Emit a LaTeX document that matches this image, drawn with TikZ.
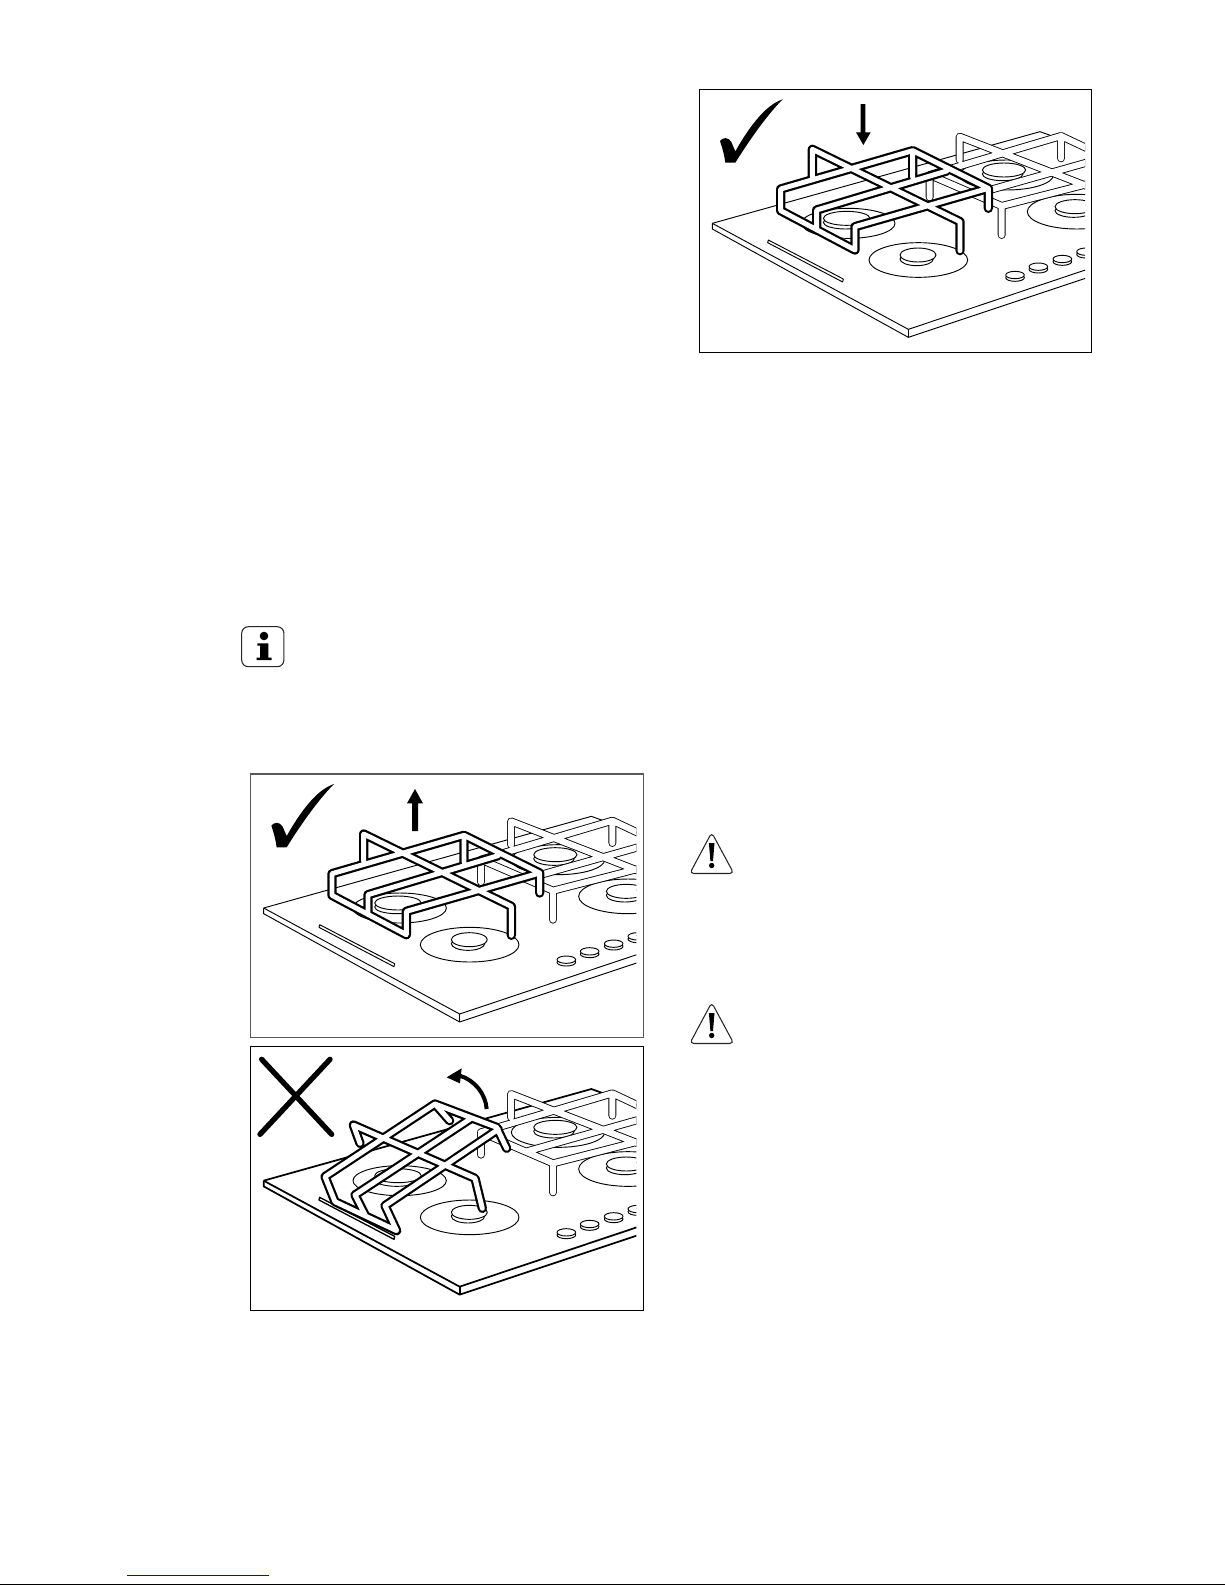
\documentclass[tikz,border=0pt]{standalone}
\usepackage{xcolor}
\usetikzlibrary{positioning}
\tikzstyle{panel} = [rectangle,minimum width=294.4pt,minimum height=197.7pt,draw=black,line width=0.9pt,inner sep=0pt]
\tikzstyle{infobox} = [rectangle,rounded corners=5pt,minimum width=31.7pt,minimum height=30pt,draw=black!85,line width=0.8pt,inner sep=0pt]
\tikzstyle{hob} = [x=0.25pt,y=-0.25pt,line join=round]
\tikzstyle{fine} = [line width=0.7pt]
\tikzstyle{reartube} = [line width=5.9pt,line cap=round,line join=round,black]
\tikzstyle{reartubein} = [line width=4.6pt,line cap=round,line join=round,white]
\tikzstyle{fronttube} = [line width=7pt,line cap=round,line join=round,black]
\tikzstyle{fronttubein} = [line width=3.7pt,line cap=round,line join=round,white]
\newcommand{\burnerset}[7]{
  \draw [fine,fill=white] (#1,#2) ellipse (#3 and #4);
  \draw [fine,fill=white] (#5-4,#6+12) ellipse (#7-4 and 20);
  \draw [fine,fill=white] (#5,#6) ellipse (#7 and 21);
}
\newcommand{\knobset}[2]{
  \draw [fine,fill=white] (#1,#2+8) ellipse (28 and 11);
  \draw [fine,fill=white] (#1,#2) ellipse (28 and 11);
}
\newcommand{\hobbase}[2]{
  \draw [line width=#1] (67,430) -- (1050,155) -- (1195,207);
  \draw [line width=#1] (67,430) -- (655,748) -- (1195,567);
  \draw [line width=#1] (67,430) -- (67,447) -- (655,772) -- (1195,592);
  \draw [line width=#1] (655,748) -- (655,772);
  \draw [line width=#2,fill=white] (235,480) -- (460,597) -- (458,606) -- (233,488) -- cycle;
  \burnerset{475}{430}{140}{45}{470}{415}{70}
  \burnerset{685}{540}{148}{52}{684}{525}{54}
  \burnerset{950}{285}{140}{45}{942}{270}{65}
  \burnerset{1160}{395}{148}{52}{1155}{380}{60}
  \knobset{975}{585}
  \knobset{1045}{560}
  \knobset{1117}{537}
  \knobset{1188}{515}
}
\newcommand{\rearpath}{(719,352) -- (719,285) -- (1113,168) -- (1113,235) (719,285) -- (935,378) -- (935,465)
  (935,378) -- (1200,310) (809,240) -- (809,170) -- (1200,322) (857,342) -- (1200,245) (1113,168) -- (1200,209)}
\newcommand{\frontpath}{(668,292) -- (668,212) -- (272,327) -- (272,392) -- (495,510) -- (495,440) -- (895,325) -- (895,385)
  (668,212) -- (895,325) (367,290) -- (367,208) -- (810,425) -- (810,512) (380,449) -- (380,390) -- (770,273)}
\newcommand{\liftpath}{(796,333) -- (766,270) -- (581,200) -- (251,418) -- (281,493) -- (466,580) -- (431,505) -- (771,276)
  (356,318) -- (336,263) -- (701,423) -- (723,513) (691,242) -- (341,473) -- (373,536) (581,200) -- (625,250)}
\newcommand{\okmark}{
  \fill (90,183) .. controls (98,172) and (115,170) .. (124,186) -- (136,214) .. controls (175,145) and (225,75) .. (278,58)
    .. controls (228,108) and (172,190) .. (136,248) -- (106,248) .. controls (103,225) and (97,203) .. (90,183) -- cycle;
}
\newcommand{\warnmark}{
  \draw [line width=0.8pt,rounded corners=3pt,draw=black!85] (711.7,832.5) -- (733.8,873.5) -- (689.8,873.5) -- cycle;
  \fill (708.9,843) -- (714.5,843) -- (713,861) -- (710.4,861) -- cycle;
  \fill (711.7,865.5) circle (2.7);
}
\begin{document}
\begin{tikzpicture}[x=0.75pt,y=-0.75pt]
  \useasboundingbox (0,0) rectangle (1225,1585);
  \node (panela) [panel] at (895.5,221) {};
  \node (panelb) [panel,draw=black!65] at (447,905.7) {};
  \node (panelc) [panel] at (447,1178.4) {};
  \node (infobox) [infobox] at (262.8,646.7) {};

  \begin{scope}[shift={(690,80)},hob]
    \begin{scope}
      \clip (0,0) rectangle (1185,840);
      \hobbase{0.7pt}{0.7pt}
      \draw [reartube] \rearpath;
      \draw [reartubein] \rearpath;
      \draw [fronttube] \frontpath;
      \draw [fronttubein] \frontpath;
    \end{scope}
    \okmark
    \fill (512,72) -- (526,72) -- (526,157) -- (542,157) -- (520,195) -- (498,157) -- (512,157) -- cycle;
  \end{scope}

  \begin{scope}[shift={(241.33,764.67)},hob]
    \begin{scope}
      \clip (0,0) rectangle (1185,840);
      \hobbase{0.7pt}{0.7pt}
      \draw [reartube] \rearpath;
      \draw [reartubein] \rearpath;
      \draw [fronttube] \frontpath;
      \draw [fronttubein] \frontpath;
    \end{scope}
    \okmark
    \fill (512,199) -- (530,199) -- (530,116) -- (545,116) -- (521,73) -- (497,116) -- (512,116) -- cycle;
  \end{scope}

  \begin{scope}[shift={(241.33,1037.33)},hob]
    \begin{scope}
      \clip (0,0) rectangle (1185,840);
      \hobbase{1.3pt}{1pt}
      \draw [reartube] \rearpath;
      \draw [reartubein] \rearpath;
      \draw [fronttube] \liftpath;
      \draw [fronttubein] \liftpath;
    \end{scope}
    \draw [line width=4pt,line cap=round] (61,66) -- (271,291);
    \draw [line width=4pt,line cap=round] (266,66) -- (56,291);
    \draw [line width=3pt] (736,215) .. controls (733,170) and (700,128) .. (655,115);
    \fill (616,120) -- (661,93) -- (656,138) -- cycle;
  \end{scope}

  \fill (264,636) circle (4.3);
  \fill (257.3,643.3) -- (268.3,643.3) -- (268.3,657.7) -- (271.7,657.7) -- (271.7,660) -- (256.7,660) -- (256.7,657.7)
    -- (260,657.7) -- (260,645.7) -- (257.3,645.7) -- cycle;

  \warnmark
  \begin{scope}[yshift=-127.5pt]
    \warnmark
  \end{scope}

  \draw [blue,line width=0.75pt] (127,1575.5) -- (269,1575.5);
  \draw [black,line width=1pt] (0,1584.6) -- (1225,1584.6);
\end{tikzpicture}
\end{document}
